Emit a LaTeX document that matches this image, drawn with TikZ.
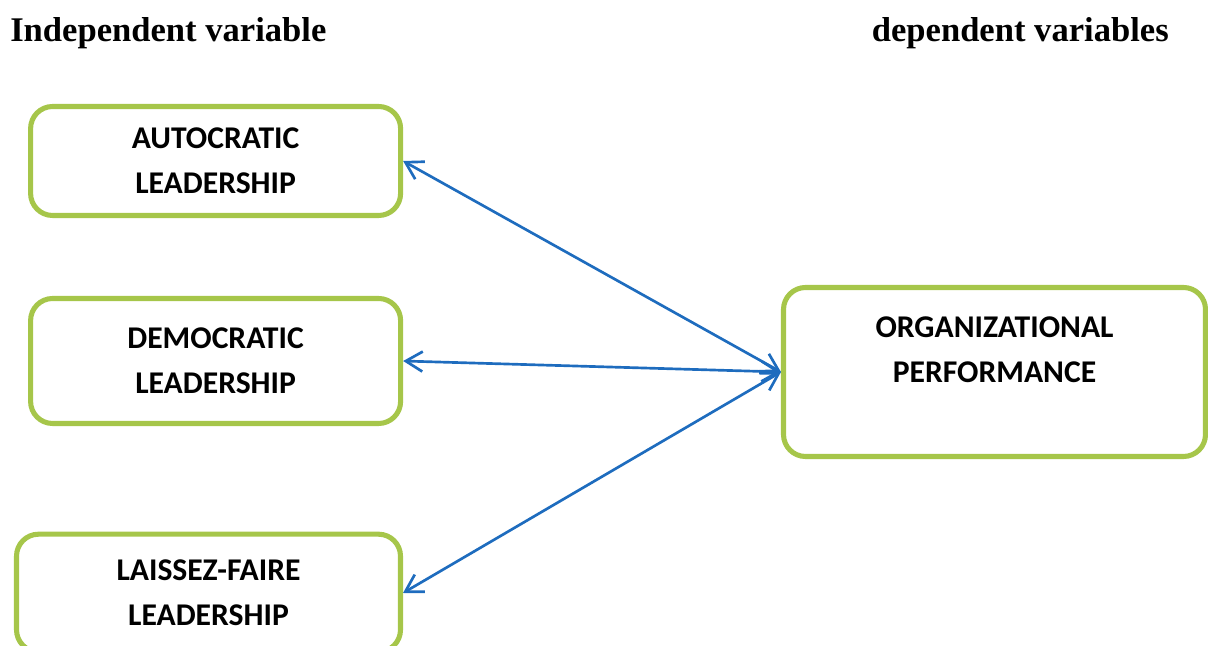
\documentclass[tikz,border=0pt]{standalone}
\usepackage{fontspec}
\setmainfont{Liberation Serif}
\newfontfamily\calibri{Carlito}
\usepackage{xcolor}
\usepackage{tikz}
\usetikzlibrary{arrows.meta, positioning}

\definecolor{boxgreen}{RGB}{166,198,74}
\definecolor{linkblue}{RGB}{30,108,190}

\begin{document}
\begin{tikzpicture}[
    box/.style={rectangle, draw=boxgreen, line width=3.6pt, rounded corners=0.55cm, align=center, font=\calibri\bfseries\fontsize{22.5}{32}\selectfont},
    heading/.style={inner sep=0pt, font=\bfseries\fontsize{24.6}{30}\selectfont},
    link/.style={{Straight Barb[length=4.2mm, width=5mm]}-{Straight Barb[length=4.2mm, width=5mm]}, linkblue, line width=1.9pt}
]
\useasboundingbox (0,0) rectangle (30.2,16.15);

% Headings
\node[heading, anchor=base west] (indep) at (0.25, 15.1) {Independent variable};
\node[heading, anchor=base east] (dep) at (29.225, 15.1) {dependent variables};

% Leadership styles (left)
\node[box, minimum width=9.25cm, minimum height=2.725cm] (auto) at (5.39, 12.125) {AUTOCRATIC\\LEADERSHIP};
\node[box, minimum width=9.25cm, minimum height=3.125cm] (demo) at (5.39, 7.125) {DEMOCRATIC\\LEADERSHIP};
\node[box, minimum width=9.6cm, minimum height=2.94cm] (laissez) at (5.2125, 1.325) {LAISSEZ-FAIRE\\LEADERSHIP};

% Organizational performance (right)
\node[box, minimum width=10.55cm, minimum height=4.225cm] (perf) at (24.8625, 6.85) {ORGANIZATIONAL\\PERFORMANCE\\ \mbox{}};

% Links between the styles and performance
\draw[link] (auto.east) -- (perf.west);
\draw[link] (demo.east) -- (perf.west);
\draw[link] (laissez.east) -- (perf.west);

\end{tikzpicture}
\end{document}
